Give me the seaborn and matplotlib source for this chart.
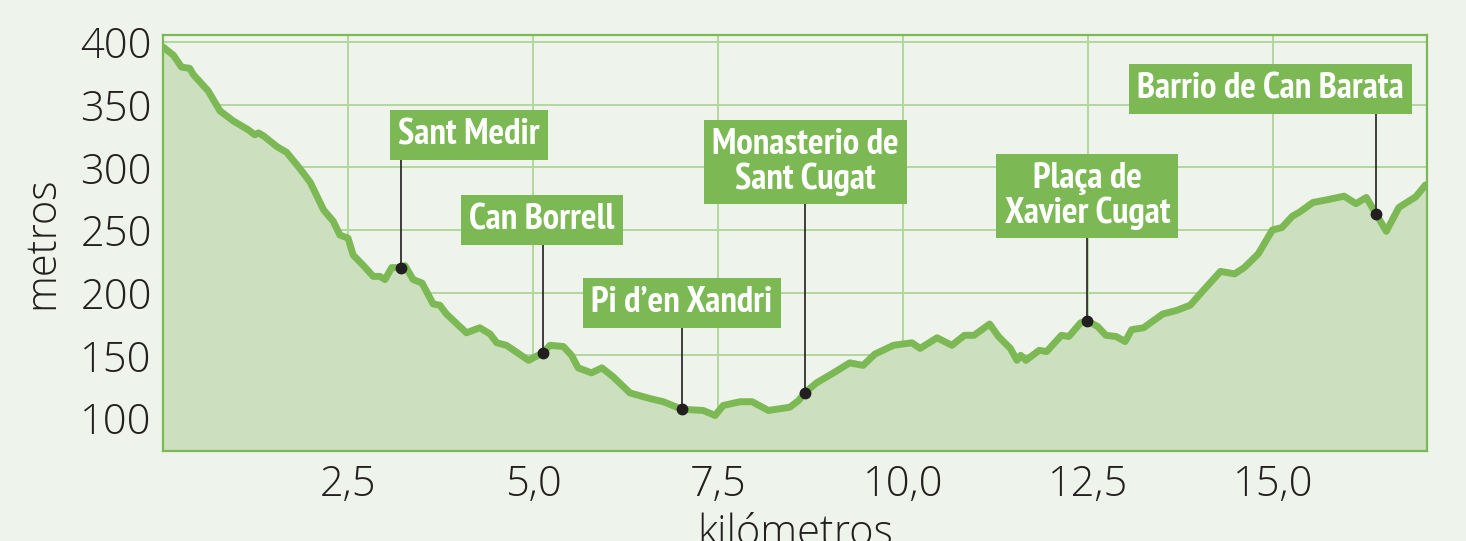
import matplotlib
matplotlib.use("Agg")
import matplotlib.pyplot as plt
from matplotlib import font_manager
import seaborn as sns

# perfil de elevacion
km = [0.00, 0.14, 0.25, 0.36, 0.41, 0.61, 0.77, 0.95, 1.15, 1.24, 1.29, 1.36, 1.54, 1.67,
      1.85, 1.99, 2.17, 2.30, 2.39, 2.50, 2.57, 2.71, 2.84, 2.93, 3.00, 3.09, 3.21, 3.27,
      3.38, 3.50, 3.65, 3.74, 3.83, 4.10, 4.28, 4.42, 4.51, 4.64, 4.94, 5.07, 5.13, 5.23,
      5.41, 5.52, 5.61, 5.79, 5.93, 6.08, 6.31, 6.58, 6.76, 7.01, 7.30, 7.46, 7.57, 7.80,
      7.96, 8.18, 8.47, 8.59, 8.67, 8.83, 9.06, 9.28, 9.46, 9.62, 9.87, 10.12, 10.23, 10.46,
      10.66, 10.83, 10.96, 11.17, 11.29, 11.45, 11.54, 11.59, 11.66, 11.84, 11.94, 12.14,
      12.24, 12.40, 12.49, 12.63, 12.74, 12.88, 13.00, 13.09, 13.25, 13.51, 13.69, 13.88,
      14.06, 14.29, 14.48, 14.61, 14.80, 14.99, 15.12, 15.26, 15.35, 15.54, 15.72, 15.96,
      16.12, 16.26, 16.39, 16.53, 16.70, 16.93, 17.06]
metros = [396, 389.5, 380, 379, 374, 361, 345, 337, 330, 326, 327.5, 325, 316.5, 312,
          299, 288, 266, 257, 246, 243.5, 230, 221.5, 213, 213, 210.5, 220, 220, 221.5,
          210.5, 207.7, 191, 190, 183, 168, 172, 167, 160, 158, 146, 150, 152, 158,
          157, 150, 140, 136, 140, 133, 120, 115.5, 113, 107, 106, 102, 110, 113,
          113, 106, 108.6, 114, 120, 128, 136, 144, 142, 151, 158, 160, 155.5, 164,
          158, 166, 166, 175, 165, 155.5, 146, 150, 146, 154, 153, 166,
          165, 176, 177.5, 173, 166, 165, 161, 170.5, 172, 183, 185.7, 190,
          202, 217, 215, 220, 231, 250, 252, 261, 264, 272, 274, 277,
          271, 276, 263, 249, 268, 276.6, 286]

# puntos de interes
poi_names = ["Sant Medir", "Can Borrell", "Pi d\u2019en Xandri", "Monasterio de\nSant Cugat",
             "Pla\u00e7a de\nXavier Cugat", "Barrio de Can Barata"]
poi_km = [3.21, 5.13, 7.01, 8.67, 12.49, 16.39]
poi_metros = [220, 152, 107, 120, 177.5, 263]

x_ticks = [2.5, 5.0, 7.5, 10.0, 12.5, 15.0]
x_ticklabels = ["2,5", "5,0", "7,5", "10,0", "12,5", "15,0"]
y_ticks = [100, 150, 200, 250, 300, 350, 400]

# posicion (centro) de las etiquetas
label_pos = [(4.135, 325.8), (5.12, 258.0), (7.01, 191.8), (8.68, 304.3), (12.49, 277.1), (14.96, 362.5)]

bg = "#eef4eb"
green = "#7cb955"
fill = "#cce0bf"
grid = "#b3d79c"
dark = "#231f20"

sns.set_theme(style="white")
plt.rcParams["font.family"] = ["Open Sans", "DejaVu Sans"]

# buscar una fuente estrecha en negrita
narrow = None
for f in font_manager.fontManager.ttflist:
    name = f.name + " " + str(f.fname)
    if ("Narrow" in name or "Condensed" in name or f.stretch in ("condensed", "semi-condensed")) \
            and f.weight in ("bold", 700, "semibold", 600) and f.style == "normal":
        narrow = f
        if "Narrow" in name:
            break
if narrow is not None:
    label_font = font_manager.FontProperties(fname=narrow.fname, size=26.5)
else:
    label_font = font_manager.FontProperties(family="DejaVu Sans", weight="bold", size=18)

fig = plt.figure(figsize=(14.66, 5.41), dpi=100, facecolor=bg)
ax = fig.add_axes([0.1112, 0.1669, 0.8622, 0.7684], facecolor=bg)

ymin = 73.9
ax.fill_between(km, metros, ymin, color=fill, lw=0, zorder=1)
sns.lineplot(x=km, y=metros, ax=ax, color=green, linewidth=5, sort=False,
             solid_joinstyle="round", solid_capstyle="round", zorder=3, legend=False)

for name, xk, ym, (lx, ly) in zip(poi_names, poi_km, poi_metros, label_pos):
    ax.plot([xk, xk], [ym, ly], color=dark, lw=1.2, zorder=4)
    ax.plot(xk, ym, "o", color=dark, ms=7.5, zorder=6)
    ax.text(lx, ly, name, ha="center", va="center", color="white",
            fontproperties=label_font, linespacing=1.05, zorder=7,
            bbox=dict(boxstyle="square,pad=0.22", fc=green, ec="none"))

ax.set_xlim(0, 17.08)
ax.set_ylim(ymin, 405.6)
ax.set_xticks(x_ticks)
ax.set_xticklabels(x_ticklabels)
ax.set_yticks(y_ticks)
ax.grid(True, color=grid, lw=1.4, zorder=0)
ax.set_axisbelow(True)
for s in ax.spines.values():
    s.set_color(green)
    s.set_linewidth(1.6)
    s.set_visible(True)

ax.tick_params(axis="both", length=0, labelsize=30, labelcolor=dark)
ax.tick_params(axis="y", pad=8)
ax.tick_params(axis="x", pad=9)
for lab in ax.get_xticklabels() + ax.get_yticklabels():
    lab.set_fontweight("light")
ax.set_xlabel("kil\u00f3metros", fontsize=30, color=dark, labelpad=5, fontweight="light")
ax.set_ylabel("metros", fontsize=30, color=dark, labelpad=12, fontweight="light")

fig.savefig("out.png", dpi=100, facecolor=bg)
